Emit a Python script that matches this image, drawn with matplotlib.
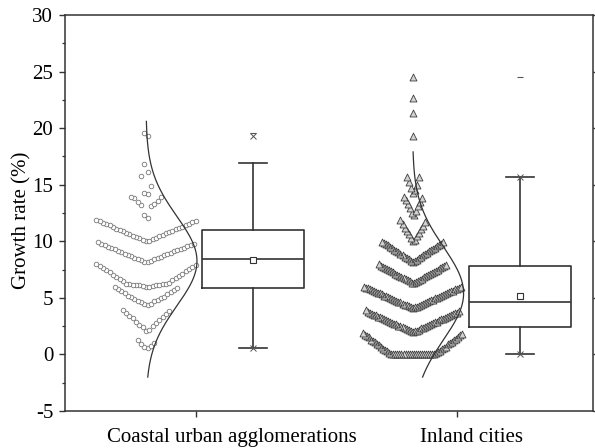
import numpy as np
import matplotlib
matplotlib.use('Agg')
import matplotlib.pyplot as plt
from matplotlib.ticker import MultipleLocator
from matplotlib.transforms import blended_transform_factory

plt.rcParams['font.family'] = ['Liberation Serif', 'DejaVu Serif']
plt.rcParams['axes.unicode_minus'] = False

groups = ['Coastal urban agglomerations', 'Inland cities']

# growth rates (%), one line per 2 % bin
coastal_values = [
    0.55, 0.65, 0.75, 0.95, 1.05, 1.3,
    2.1, 2.2, 2.4, 2.5, 2.6, 2.8, 2.9, 3.0, 3.2, 3.3, 3.4, 3.6, 3.7, 3.8, 3.95,
    4.4, 4.45, 4.5, 4.6, 4.7, 4.75, 4.8, 4.9, 5.0, 5.05, 5.1, 5.2, 5.3, 5.4, 5.5,
    5.6, 5.7, 5.8, 5.9, 5.95,
    6.0, 6.0, 6.05, 6.05, 6.1, 6.1, 6.1, 6.15, 6.15, 6.2, 6.2, 6.25, 6.25,
    6.35, 6.45, 6.55, 6.65, 6.75, 6.85, 6.95, 7.05, 7.15, 7.25, 7.35, 7.45, 7.55,
    7.65, 7.75, 7.8, 7.9, 7.95,
    8.15, 8.2, 8.25, 8.35, 8.4, 8.45, 8.5, 8.55, 8.6, 8.7, 8.75, 8.8, 8.85, 8.9,
    9.0, 9.05, 9.1, 9.15, 9.2, 9.3, 9.35, 9.4, 9.45, 9.5, 9.6, 9.65, 9.7, 9.75,
    9.8, 9.9,
    10.0, 10.05, 10.1, 10.2, 10.25, 10.3, 10.4, 10.45, 10.5, 10.55, 10.6, 10.7,
    10.75, 10.8, 10.9, 10.95, 11.0, 11.05, 11.1, 11.2, 11.25, 11.3, 11.4, 11.45,
    11.5, 11.55, 11.6, 11.7, 11.75, 11.8, 11.9,
    12.1, 12.3, 13.1, 13.2, 13.3, 13.5, 13.6, 13.8, 13.9, 13.95,
    14.2, 14.3, 14.9, 15.8,
    16.1, 16.8,
    19.3, 19.6,
]

inland_values = [
    0, 0, 0, 0, 0, 0, 0, 0, 0, 0, 0, 0, 0, 0, 0, 0, 0, 0, 0, 0, 0, 0,
    0.1, 0.1, 0.2, 0.3, 0.3, 0.4, 0.5, 0.5, 0.6, 0.7, 0.7, 0.8, 0.9, 0.9, 1.0,
    1.1, 1.1, 1.2, 1.3, 1.3, 1.4, 1.5, 1.5, 1.6, 1.7, 1.7, 1.8, 1.9,
    2.0, 2.05, 2.1, 2.1, 2.15, 2.2, 2.25, 2.3, 2.3, 2.35, 2.4, 2.45, 2.5, 2.5,
    2.55, 2.6, 2.65, 2.7, 2.7, 2.75, 2.8, 2.85, 2.9, 2.9, 2.95, 3.0, 3.05, 3.1,
    3.1, 3.15, 3.2, 3.25, 3.3, 3.3, 3.35, 3.4, 3.45, 3.5, 3.5, 3.55, 3.6, 3.65,
    3.7, 3.7, 3.75, 3.8, 3.9,
    4.1, 4.15, 4.2, 4.2, 4.25, 4.3, 4.35, 4.4, 4.4, 4.45, 4.5, 4.55, 4.6, 4.6,
    4.65, 4.7, 4.75, 4.8, 4.8, 4.85, 4.9, 4.95, 5.0, 5.0, 5.05, 5.1, 5.15, 5.2,
    5.2, 5.25, 5.3, 5.35, 5.4, 5.4, 5.45, 5.5, 5.55, 5.6, 5.6, 5.65, 5.7, 5.75,
    5.8, 5.8, 5.85, 5.9, 5.9, 5.95, 5.95,
    6.3, 6.35, 6.4, 6.45, 6.5, 6.55, 6.6, 6.65, 6.7, 6.75, 6.8, 6.85, 6.9, 6.95,
    7.0, 7.05, 7.1, 7.15, 7.2, 7.25, 7.3, 7.35, 7.4, 7.45, 7.5, 7.55, 7.6, 7.65,
    7.7, 7.75, 7.8, 7.85, 7.9, 7.95,
    8.2, 8.25, 8.3, 8.35, 8.45, 8.5, 8.55, 8.6, 8.65, 8.75, 8.8, 8.85, 8.9, 8.95,
    9.05, 9.1, 9.15, 9.2, 9.25, 9.35, 9.4, 9.45, 9.5, 9.55, 9.65, 9.7, 9.75, 9.8,
    9.85, 9.9, 9.95,
    10.0, 10.15, 10.3, 10.45, 10.6, 10.75, 10.9, 11.05, 11.2, 11.35, 11.5, 11.7,
    11.9,
    12.3, 12.5, 12.7, 12.9, 13.1, 13.3, 13.5, 13.65, 13.8, 13.95,
    14.3, 14.5, 14.7, 15.0, 15.2, 15.7, 15.7,
    19.3, 21.3, 22.7, 24.5,
]

# box chart statistics as drawn
box_q1 = [5.85, 2.42]
box_med = [8.45, 4.64]
box_q3 = [11.0, 7.8]
box_mean = [8.33, 5.2]
whisk_lo = [0.56, 0.0]
whisk_hi = [16.9, 15.7]
pct_lo = [0.56, 0.0]     # 1 % marker
pct_hi = [19.3, 15.7]    # 99 % marker
val_min = [0.55, 0.0]
val_max = [19.6, 24.5]

# normal curves next to the points
curve_mu = [8.25, 5.4]
curve_sd = [3.95, 4.1]
curve_lo = [-2.0, -2.0]
curve_hi = [20.6, 17.9]

tick_x = [1, 2]
label_x = [1.138, 2.057]
pts_x = [0.81, 1.83]
box_x = [1.22, 2.24]


def bin_layout(values, center, width, binw=2.0):
    # points binned, each bin sorted and spread out from the centre
    v = np.sort(np.asarray(values, dtype=float))
    b = np.floor(v / binw + 1e-9)
    nmax = max(np.sum(b == k) for k in np.unique(b))
    d = width / (nmax - 1)
    xs, ys = [], []
    for k in np.unique(b):
        row = v[b == k]
        n = len(row)
        for i, y in enumerate(row):
            if n % 2:
                m = (i + 1) // 2
                s = 1 if i % 2 else -1
                off = s * m * d
            else:
                m = i // 2
                s = 1 if i % 2 == 0 else -1
                off = s * (m + 0.5) * d
            xs.append(center + off)
            ys.append(y)
    return np.array(xs), np.array(ys)


fig = plt.figure(figsize=(5.95, 4.48), dpi=100)
ax = fig.add_axes([0.1092, 0.0826, 0.8874, 0.8839])

dark = '#333333'

x, y = bin_layout(coastal_values, pts_x[0], 0.379)
ax.scatter(x, y, s=3.3 ** 2, marker='o', facecolors='white',
           edgecolors='#777777', linewidths=0.6, zorder=3)

x, y = bin_layout(inland_values, pts_x[1], 0.379)
ax.scatter(x, y, s=5.0 ** 2, marker='^', facecolors='#d2d2d2',
           edgecolors='#3c3c3c', linewidths=0.6, zorder=3)

for i in range(2):
    yy = np.linspace(curve_lo[i], curve_hi[i], 300)
    xx = pts_x[i] + 0.195 * np.exp(-0.5 * ((yy - curve_mu[i]) / curve_sd[i]) ** 2)
    ax.plot(xx, yy, color=dark, lw=0.9, zorder=4)

stats = []
for i in range(2):
    stats.append(dict(med=box_med[i], q1=box_q1[i], q3=box_q3[i],
                      whislo=whisk_lo[i], whishi=whisk_hi[i],
                      mean=box_mean[i], fliers=[]))
lp = dict(color=dark, lw=1.2)
ax.bxp(stats, positions=box_x, widths=0.39, capwidths=0.105,
       showmeans=True, showfliers=False,
       boxprops=lp, medianprops=lp, whiskerprops=lp, capprops=lp,
       meanprops=dict(marker='s', markerfacecolor='white',
                      markeredgecolor=dark, markersize=4, markeredgewidth=0.8),
       manage_ticks=False)

ax.plot(box_x, pct_hi, 'x', color='#555555', ms=5, mew=0.7, zorder=5)
ax.plot(box_x, pct_lo, 'x', color='#555555', ms=5, mew=0.7, zorder=5)
ax.plot(box_x, val_max, '_', color='#555555', ms=5, mew=0.8, zorder=5)
ax.plot(box_x, val_min, '_', color='#555555', ms=5, mew=0.8, zorder=5)

ax.set_xlim(0.5, 2.52)
ax.set_ylim(-5, 30)
ax.set_xticks(tick_x)
ax.set_xticklabels([])
trans = blended_transform_factory(ax.transData, ax.transAxes)
for lx, name in zip(label_x, groups):
    ax.text(lx, -0.0795, name, transform=trans, ha='center', va='baseline',
            fontsize=15)
ax.yaxis.set_major_locator(MultipleLocator(5))
ax.yaxis.set_minor_locator(MultipleLocator(2.5))
ax.set_ylabel('Growth rate (%)', fontsize=15)
ax.yaxis.set_label_coords(-0.064, 0.482)

for s in ax.spines.values():
    s.set_color(dark)
    s.set_linewidth(1.1)
ax.tick_params(which='major', direction='out', length=4, width=1.0,
               color=dark, labelsize=15, right=True, top=False)
ax.tick_params(which='minor', direction='out', length=2.5, width=0.9,
               color=dark, right=False, top=False)
ax.tick_params(axis='x', which='minor', bottom=False)
ax.tick_params(axis='y', pad=4.5)

fig.savefig('out.png', dpi=100)
